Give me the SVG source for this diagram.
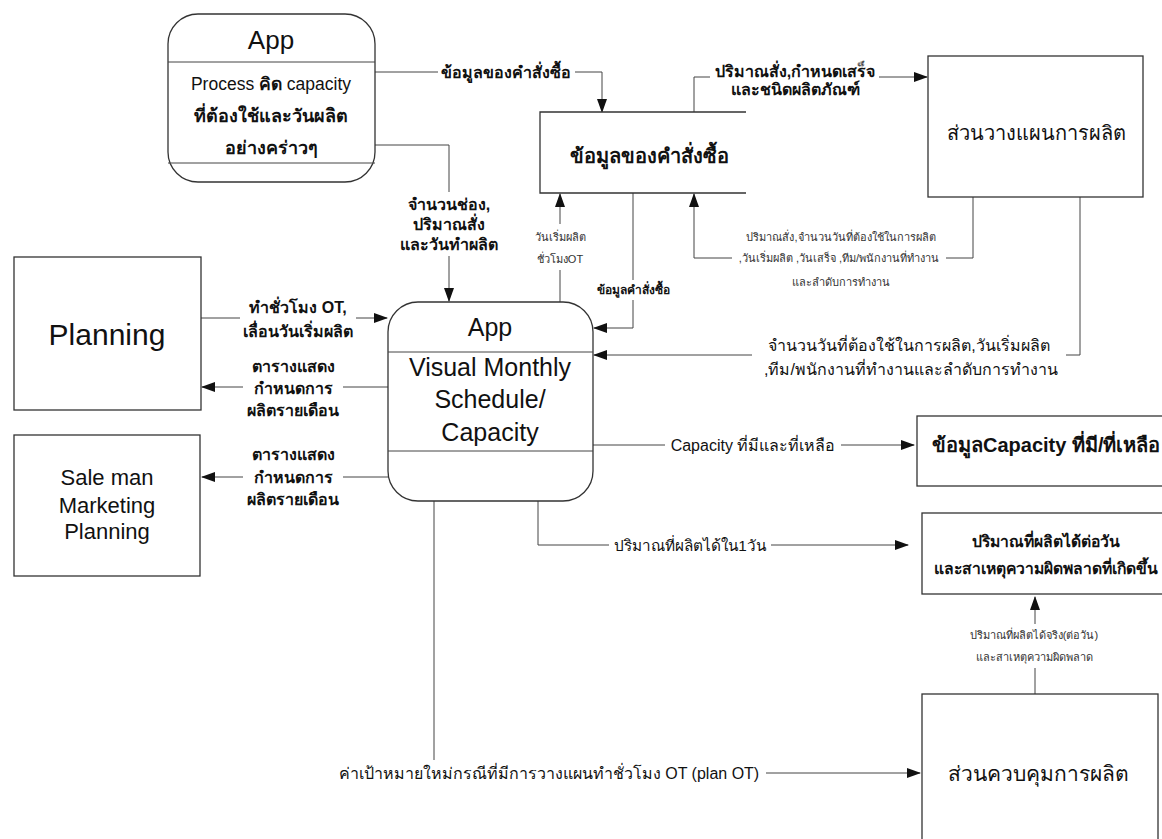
<svg xmlns="http://www.w3.org/2000/svg" width="1162" height="839" viewBox="0 0 1162 839">
<style>
.box{fill:#fff;stroke:#333;stroke-width:1.3}
.ln{fill:none;stroke:#444;stroke-width:1}
.arr{marker-end:url(#ah)}
text{font-family:"Liberation Sans","DejaVu Sans","Noto Sans",sans-serif;fill:#111;text-anchor:middle;dominant-baseline:central}
.big{font-size:30px}
.app{font-size:25px}
.sale{font-size:22px}
.lab{font-size:16px}
.labb{font-size:16px;font-weight:bold}
.sm{font-size:11px;fill:#333}
.smb{font-size:12px;font-weight:bold}
.nb{font-size:20px;font-weight:bold}
.nt{font-size:20px}
.pt{font-size:17.5px}
.ptb{font-size:18px;font-weight:bold}
.dly{font-size:15.7px;font-weight:bold}
</style>
<defs>
<marker id="ah" markerWidth="14" markerHeight="10" refX="13" refY="5" orient="auto" markerUnits="userSpaceOnUse">
<path d="M0,0 L14,5 L0,10 Z" fill="#111"/>
</marker>
</defs>
<rect width="1162" height="839" fill="#fff"/>

<g id="connectors">
<path class="ln" d="M375,72 H438"/>
<path class="ln arr" d="M575,72 H602 V112"/>
<path class="ln" d="M375,145 H449 V192"/>
<path class="ln arr" d="M449,256 V301"/>
<path class="ln" d="M694,112 V77 H710"/>
<path class="ln arr" d="M879,77 H927"/>
<path class="ln" d="M973,197 V258 H946"/>
<path class="ln arr" d="M732,258 H694 V194"/>
<path class="ln" d="M1080,197 V355 H1066"/>
<path class="ln arr" d="M752,355 H594"/>
<path class="ln" d="M633,193 V280"/>
<path class="ln arr" d="M633,300 V328 H594"/>
<path class="ln" d="M560,302 V270"/>
<path class="ln arr" d="M560,224 V194"/>
<path class="ln" d="M201,318 H240"/>
<path class="ln arr" d="M356,318 H387"/>
<path class="ln" d="M388,387 H343"/>
<path class="ln arr" d="M243,387 H202"/>
<path class="ln" d="M388,477 H343"/>
<path class="ln arr" d="M243,477 H202"/>
<path class="ln" d="M593,445 H665"/>
<path class="ln arr" d="M841,445 H914"/>
<path class="ln" d="M538,501 V545 H609"/>
<path class="ln arr" d="M771,545 H908"/>
<path class="ln" d="M434,501 V760"/>
<path class="ln arr" d="M766,773 H920"/>
<path class="ln" d="M1035,694 V668"/>
<path class="ln arr" d="M1035,624 V597"/>
</g>

<g id="labels">
<text class="labb" x="506" y="72">ข้อมูลของคำสั่งซื้อ</text>
<text class="labb" x="449" y="204">จำนวนช่อง,</text>
<text class="labb" x="449" y="224">ปริมาณสั่ง</text>
<text class="labb" x="449" y="244">และวันทำผลิต</text>
<text class="labb" x="795" y="71">ปริมาณสั่ง,กำหนดเสร็จ</text>
<text class="labb" x="795" y="89">และชนิดผลิตภัณฑ์</text>
<text class="sm" x="841" y="237">ปริมาณสั่ง,จำนวนวันที่ต้องใช้ในการผลิต</text>
<text class="sm" x="839" y="258">,วันเริ่มผลิต ,วันเสร็จ ,ทีม/พนักงานที่ทำงาน</text>
<text class="sm" x="841" y="282">และลำดับการทำงาน</text>
<text class="sm" x="560" y="237">วันเริ่มผลิต</text>
<text class="sm" x="560" y="259">ชั่วโมงOT</text>
<text class="smb" x="633" y="290">ข้อมูลคำสั่งซื้อ</text>
<text class="lab" x="909" y="345">จำนวนวันที่ต้องใช้ในการผลิต,วันเริ่มผลิต</text>
<text class="lab" x="911" y="369">,ทีม/พนักงานที่ทำงานและลำดับการทำงาน</text>
<text class="labb" x="298" y="307">ทำชั่วโมง OT,</text>
<text class="labb" x="298" y="331">เลื่อนวันเริ่มผลิต</text>
<text class="labb" x="293" y="366">ตารางแสดง</text>
<text class="labb" x="293" y="388">กำหนดการ</text>
<text class="labb" x="293" y="410">ผลิตรายเดือน</text>
<text class="labb" x="293" y="454">ตารางแสดง</text>
<text class="labb" x="293" y="477">กำหนดการ</text>
<text class="labb" x="293" y="499">ผลิตรายเดือน</text>
<text class="lab" x="753" y="445">Capacity ที่มีและที่เหลือ</text>
<text class="lab" x="690" y="545" style="font-size:15.3px">ปริมาณที่ผลิตได้ใน1วัน</text>
<text class="lab" x="549" y="773">ค่าเป้าหมายใหม่กรณีที่มีการวางแผนทำชั่วโมง OT (plan OT)</text>
<text class="sm" x="1034" y="635">ปริมาณที่ผลิตได้จริง(ต่อวัน)</text>
<text class="sm" x="1034" y="657">และสาเหตุความผิดพลาด</text>
</g>

<g id="app-process">
<rect class="box" x="168" y="14" width="207" height="168" rx="30"/>
<line class="ln" x1="168" y1="62" x2="375" y2="62" stroke="#333"/>
<line class="ln" x1="168" y1="163" x2="375" y2="163" stroke="#333"/>
<text class="app" x="271" y="40" style="font-size:26px">App</text>
<text class="pt" x="271" y="84">Process <tspan font-weight="bold">คิด</tspan> capacity</text>
<text class="ptb" x="271" y="116">ที่ต้องใช้และวันผลิต</text>
<text class="ptb" x="271" y="148">อย่างคร่าวๆ</text>
</g>

<g id="order-store">
<path class="box" d="M746,112 H540 V193 H746"/>
<text class="nb" x="649" y="156">ข้อมูลของคำสั่งซื้อ</text>
</g>

<g id="planning-dept">
<rect class="box" x="928" y="56" width="215" height="141"/>
<text class="nt" x="1036" y="133">ส่วนวางแผนการผลิต</text>
</g>

<g id="planning">
<rect class="box" x="14" y="257" width="187" height="153"/>
<text class="big" x="107" y="334">Planning</text>
</g>

<g id="saleman">
<rect class="box" x="14" y="435" width="186" height="141"/>
<text class="sale" x="107" y="477">Sale man</text>
<text class="sale" x="107" y="505">Marketing</text>
<text class="sale" x="107" y="531">Planning</text>
</g>

<g id="app-visual">
<rect class="box" x="388" y="302" width="205" height="199" rx="30"/>
<line class="ln" x1="388" y1="352" x2="593" y2="352" stroke="#333"/>
<line class="ln" x1="388" y1="451" x2="593" y2="451" stroke="#333"/>
<text class="app" x="490" y="327">App</text>
<text class="app" x="490" y="367">Visual Monthly</text>
<text class="app" x="490" y="399">Schedule/</text>
<text class="app" x="490" y="432">Capacity</text>
</g>

<g id="capacity-store">
<rect class="box" x="917" y="416" width="260" height="70"/>
<text class="nb" x="932" y="445" style="text-anchor:start">ข้อมูลCapacity ที่มี/ที่เหลือ</text>
</g>

<g id="daily-output">
<rect class="box" x="922" y="513" width="250" height="81"/>
<text class="dly" x="1046" y="541">ปริมาณที่ผลิตได้ต่อวัน</text>
<text class="dly" x="1046" y="568">และสาเหตุความผิดพลาดที่เกิดขึ้น</text>
</g>

<g id="control-dept">
<rect class="box" x="922" y="694" width="236" height="160"/>
<text class="nt" x="1038" y="773" style="font-size:21px">ส่วนควบคุมการผลิต</text>
</g>
</svg>
